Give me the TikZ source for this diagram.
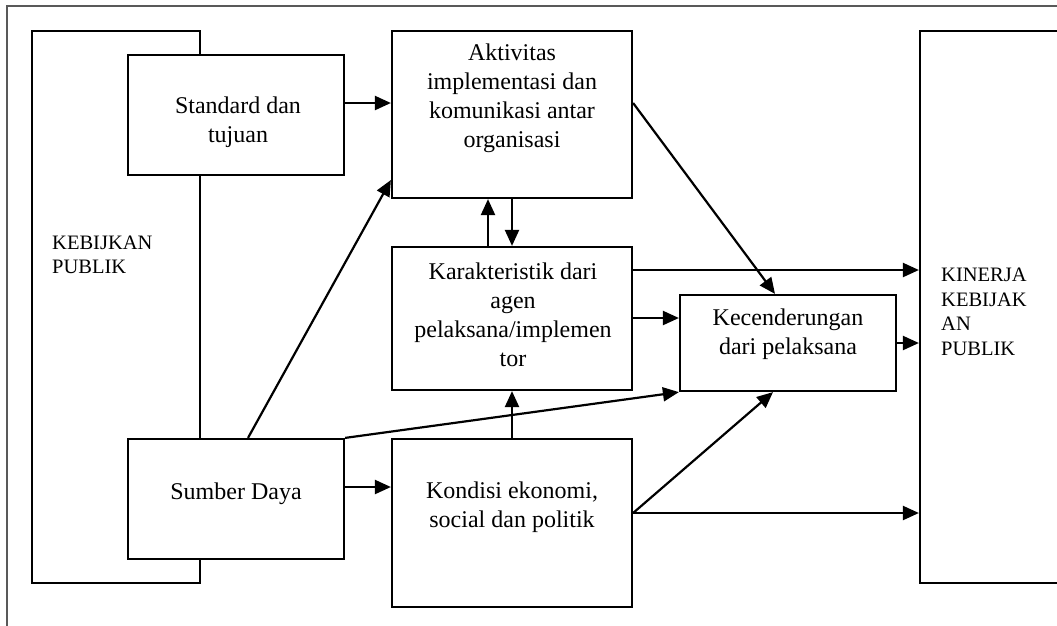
\documentclass[tikz,border=0pt]{standalone}
\usepackage{fontspec}
\setmainfont{Liberation Serif}
\usetikzlibrary{arrows.meta,calc}
\begin{document}
\begin{tikzpicture}[x=1pt,y=-1pt,
  box/.style={draw,line width=2.2pt,fill=white,inner sep=0pt},
  txt/.style={align=center,font=\fontsize{24}{29}\selectfont,inner sep=0pt},
  side/.style={align=left,font=\fontsize{20.5}{24.5}\selectfont,inner sep=0pt,anchor=west},
  arr/.style={line width=2.2pt,-{Triangle[length=16pt,width=14pt]}}]
\useasboundingbox (0,0) rectangle (1057,625);
\clip (0,0) rectangle (1057,625);
\draw[gray!70!black,line width=1.2pt] (7,6) rectangle (1090,660);
% boxes
\node[box,minimum width=168,minimum height=552] (keb) at (116,307) {};
\node[box,minimum width=216,minimum height=120] (std) at (236,115) {};
\node[box,minimum width=216,minimum height=120] (sd) at (236,499) {};
\node[box,minimum width=240,minimum height=167] (akt) at (512,114.5) {};
\node[box,minimum width=240,minimum height=143] (kar) at (512,318.5) {};
\node[box,minimum width=240,minimum height=168] (kon) at (512,523) {};
\node[box,minimum width=216,minimum height=96] (kec) at (788,343) {};
\node[box,minimum width=200,minimum height=552] (kin) at (1020,307) {};
% texts
\node[side] (keb-t) at (52,255) {KEBIJKAN\\PUBLIK};
\node[side] (kin-t) at (941,312) {KINERJA\\KEBIJAK\\AN\\PUBLIK};
\node[txt] (std-t) at (238,122) {Standard dan\\tujuan};
\node[txt] (sd-t) at (236,494) {Sumber Daya};
\node[txt] (akt-t) at (512,98) {Aktivitas\\implementasi dan\\komunikasi antar\\organisasi};
\node[txt] (kar-t) at (513,315) {Karakteristik dari\\agen\\pelaksana/implemen\\tor};
\node[txt] (kec-t) at (788,334) {Kecenderungan\\dari pelaksana};
\node[txt] (kon-t) at (512,507) {Kondisi ekonomi,\\social dan politik};
% connectors
\draw[arr] (std.east |- 0,103) -- (akt.west |- 0,103);
\draw[arr] (akt.east |- 0,103) -- (775,0 |- kec.north);
\draw[arr] (kar.north -| 488,0) -- (akt.south -| 488,0);
\draw[arr] (akt.south -| 512,0) -- (kar.north -| 512,0);
\draw[arr] (kar.east |- 0,270) -- (kin.west |- 0,270);
\draw[arr] (kar.east |- 0,318) -- (kec.west |- 0,318);
\draw[arr] (kec.east |- 0,343) -- (kin.west |- 0,343);
\draw[arr] (sd.north -| 248,0) -- (akt.west |- 0,180);
\draw[arr] (sd.north east) -- (kec.south west);
\draw[arr] (sd.east |- 0,487) -- (kon.west |- 0,487);
\draw[arr] (kon.north) -- (kar.south);
\draw[arr] (kon.east |- 0,513) -- (773,0 |- kec.south);
\draw[arr] (kon.east |- 0,513) -- (kin.west |- 0,513);
\end{tikzpicture}
\end{document}
